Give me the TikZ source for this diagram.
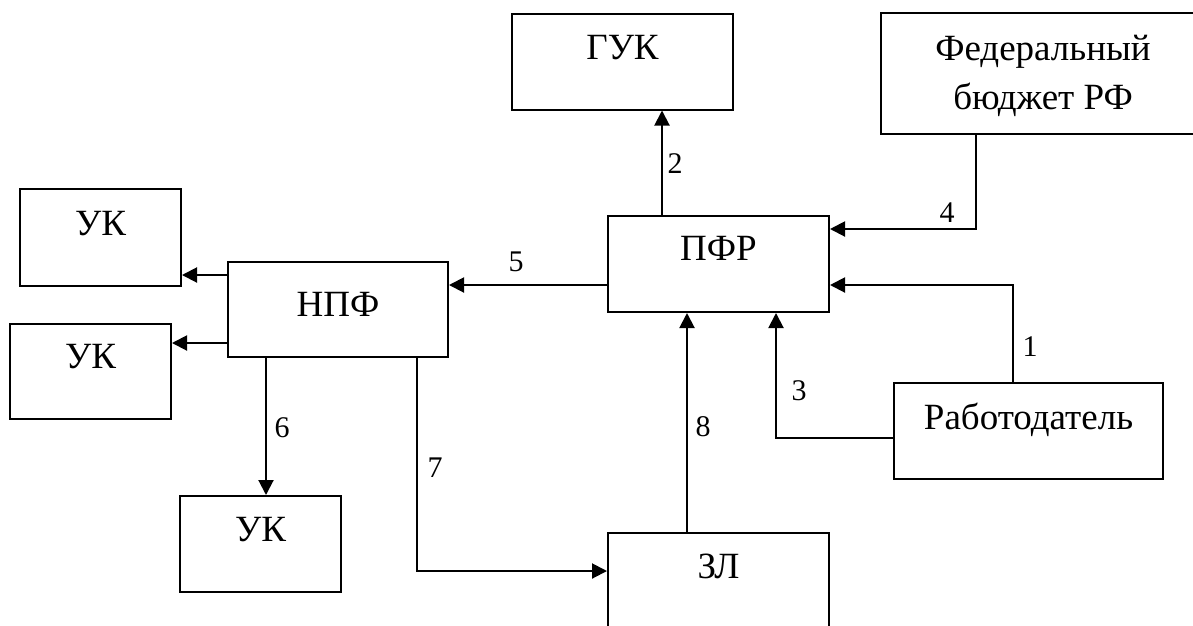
\documentclass[tikz,border=0pt]{standalone}
\usepackage{fontspec}
\setmainfont{Liberation Serif}
\usetikzlibrary{calc}
\usetikzlibrary{arrows.meta}
\tikzset{blok/.style={draw, line width=2pt, minimum width=221pt, minimum height=96pt, inner sep=0pt}}
\tikzset{uk/.style={blok, minimum width=161pt}}
\tikzset{flow/.style={line width=2pt, -{Triangle[length=15pt,width=15pt]}}}
\tikzset{num/.style={font=\fontsize{30}{36}\selectfont, inner sep=0pt}}

\begin{document}
\begin{tikzpicture}[x=1pt, y=-1pt, every node/.style={font=\fontsize{37}{49}\selectfont}]
		\useasboundingbox (0,0) rectangle (1193,625);

		% Top row
		\node[blok] (guk) at (622.5,61.5) {};
		\node[anchor=base] (gukt) at ($(guk.north)+(0,47)$) {ГУК};
		\node[blok, minimum width=324pt, minimum height=121pt] (fed) at (1043,73.5) {};
		\node[anchor=base, align=center] (fedt) at ($(fed.north)+(0,97)$) {Федеральный\\бюджет РФ};

		% Middle
		\node[blok] (pfr) at (718.5,264) {};
		\node[anchor=base] (pfrt) at ($(pfr.north)+(0,45)$) {ПФР};
		\node[blok, minimum width=220pt, minimum height=95pt] (npf) at (338,309.5) {};
		\node[anchor=base] (npft) at ($(npf.north)+(0,55)$) {НПФ};
		\node[uk, minimum height=97pt] (uka) at (100.5,237.5) {};
		\node[anchor=base] (ukat) at ($(uka.north)+(0,47)$) {УК};
		\node[uk, minimum height=95pt] (ukb) at (90.5,371.5) {};
		\node[anchor=base] (ukbt) at ($(ukb.north)+(0,45)$) {УК};
		\node[blok, minimum width=269pt] (rab) at (1028.5,431) {};
		\node[anchor=base] (rabt) at ($(rab.north)+(0,47)$) {Работодатель};

		% Bottom row
		\node[uk] (ukc) at (260.5,544) {};
		\node[anchor=base] (ukct) at ($(ukc.north)+(0,46)$) {УК};
		\node[blok] (zl) at (718.5,581) {};
		\node[anchor=base] (zlt) at ($(zl.north)+(0,46)$) {ЗЛ};

		% Flows
		\coordinate (c2) at ($(pfr.north west)+(55,0)$);
		\draw[flow] (c2) -- (c2 |- guk.south);
		\draw[flow] ($(fed.south west)+(96,0)$) |- ($(pfr.north east)+(0,14)$);
		\draw[flow] ($(rab.north west)+(120,0)$) |- ($(pfr.north east)+(0,70)$);
		\coordinate (c5) at ($(pfr.north west)+(0,70)$);
		\draw[flow] (c5) -- (c5 -| npf.east);
		\coordinate (ca) at ($(npf.north west)+(0,14)$);
		\draw[flow] (ca) -- (ca -| uka.east);
		\coordinate (cb) at ($(npf.north west)+(0,82)$);
		\draw[flow] (cb) -- (cb -| ukb.east);
		\coordinate (c6) at ($(npf.south west)+(39,0)$);
		\draw[flow] (c6) -- (c6 |- ukc.north);
		\draw[flow] ($(npf.south west)+(190,0)$) |- ($(zl.north west)+(0,39)$);
		\coordinate (c8) at ($(zl.north west)+(80,0)$);
		\draw[flow] (c8) -- (c8 |- pfr.south);
		\draw[flow] ($(rab.north west)+(0,56)$) -| ($(pfr.south west)+(169,0)$);

		% Numbers
		\node[num] (n1) at (1030,347) {1};
		\node[num] (n2) at (675,164) {2};
		\node[num] (n3) at (799,391) {3};
		\node[num] (n4) at (947,213) {4};
		\node[num] (n5) at (516,262) {5};
		\node[num] (n6) at (282,428) {6};
		\node[num] (n7) at (435,468) {7};
		\node[num] (n8) at (703,427) {8};
	\end{tikzpicture}
\end{document}
